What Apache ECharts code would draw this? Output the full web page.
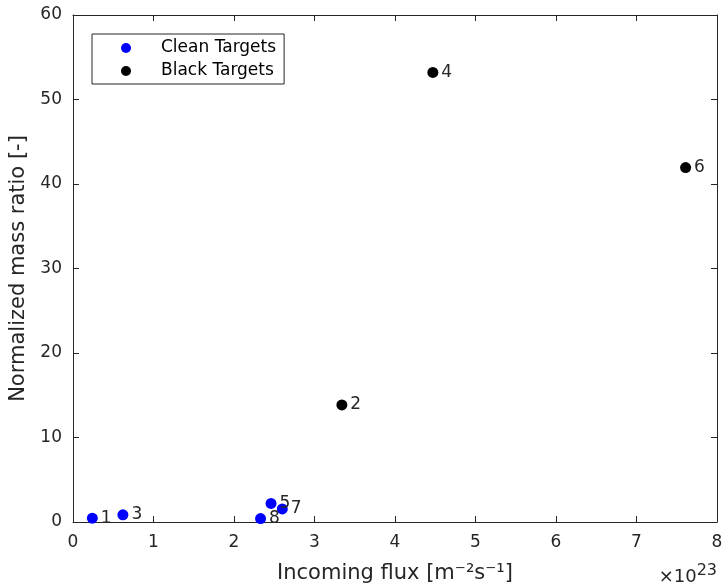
<!DOCTYPE html>
<html><head><meta charset="utf-8">
<script src="https://cdn.jsdelivr.net/npm/echarts@6/dist/echarts.min.js"></script>
<style>html,body{margin:0;padding:0;background:#fff}#c{width:725px;height:587px}</style>
</head><body><div id="c"></div>
<script>
const cleanIds = ['1','3','5','7','8'];
const cleanFlux = [0.24, 0.62, 2.46, 2.60, 2.33];
const cleanRatio = [0.45, 0.85, 2.2, 1.55, 0.4];
const blackIds = ['2','4','6'];
const blackFlux = [3.34, 4.47, 7.61];
const blackRatio = [13.85, 53.2, 41.95];
const xTicks = [0,1,2,3,4,5,6,7,8];
const yTicks = [0,10,20,30,40,50,60];

const font = 'DejaVu Sans';
const txt = '#262626';
function pts(xs, ys, ids){ return xs.map((x,i)=>({value:[x, ys[i]], name: ids[i]})); }
const axLine = {show:true, onZero:false, lineStyle:{color:'#262626', width:1}};
const tick = {show:true, inside:true, length:6, lineStyle:{color:'#262626'}};
const chart = echarts.init(document.getElementById('c'));
chart.setOption({
  animation:false,
  grid:{left:73, right:8, top:15, bottom:65, show:false, containLabel:false, outerBoundsMode:'none'},
  xAxis:[
    {type:'value', min:xTicks[0], max:xTicks[xTicks.length-1], interval:1, position:'bottom',
     axisLine:axLine, axisTick:tick, splitLine:{show:false},
     axisLabel:{color:txt, fontFamily:font, fontSize:17, margin:12},
     name:'Incoming flux [m⁻²s⁻¹]', nameLocation:'middle', nameGap:41,
     nameTextStyle:{color:txt, fontFamily:font, fontSize:21}},
    {type:'value', min:0, max:8, interval:1, position:'top',
     axisLine:axLine, axisTick:tick, axisLabel:{show:false}, splitLine:{show:false}}
  ],
  yAxis:[
    {type:'value', min:yTicks[0], max:yTicks[yTicks.length-1], interval:10, position:'left',
     axisLine:axLine, axisTick:tick, splitLine:{show:false},
     axisLabel:{color:txt, fontFamily:font, fontSize:17, margin:11},
     name:'Normalized mass ratio [-]', nameLocation:'middle', nameGap:42, nameRotate:90,
     nameTextStyle:{color:txt, fontFamily:font, fontSize:21}},
    {type:'value', min:0, max:60, interval:10, position:'right',
     axisLine:axLine, axisTick:tick, axisLabel:{show:false}, splitLine:{show:false}}
  ],
  legend:{
    left:92, top:34, orient:'vertical', itemGap:3, itemWidth:10, itemHeight:10,
    padding:[4,8,3,29], borderColor:'#262626', borderWidth:1, borderRadius:0, backgroundColor:'#fff',
    textStyle:{color:'#000', fontFamily:font, fontSize:17, lineHeight:20, padding:[0,0,0,25]},
    data:[{name:'Clean Targets', icon:'circle'},{name:'Black Targets', icon:'circle'}]
  },
  series:[
    {name:'Clean Targets', type:'scatter', symbolSize:11, itemStyle:{color:'#0000ff', opacity:1},
     data:pts(cleanFlux, cleanRatio, cleanIds),
     label:{show:true, position:'right', distance:3, formatter:'{b}', color:txt, fontFamily:font, fontSize:17}},
    {name:'Black Targets', type:'scatter', symbolSize:11, itemStyle:{color:'#000', opacity:1},
     data:pts(blackFlux, blackRatio, blackIds),
     label:{show:true, position:'right', distance:3, formatter:'{b}', color:txt, fontFamily:font, fontSize:17}}
  ],
  graphic:[{type:'text', right:8, top:563,
    style:{text:'×10{s|23}', rich:{s:{fontSize:16, verticalAlign:'top', padding:[0,0,12,0], fill:txt, fontFamily:font}},
      fill:txt, fontFamily:font, fontSize:18}}]
});
</script></body></html>
